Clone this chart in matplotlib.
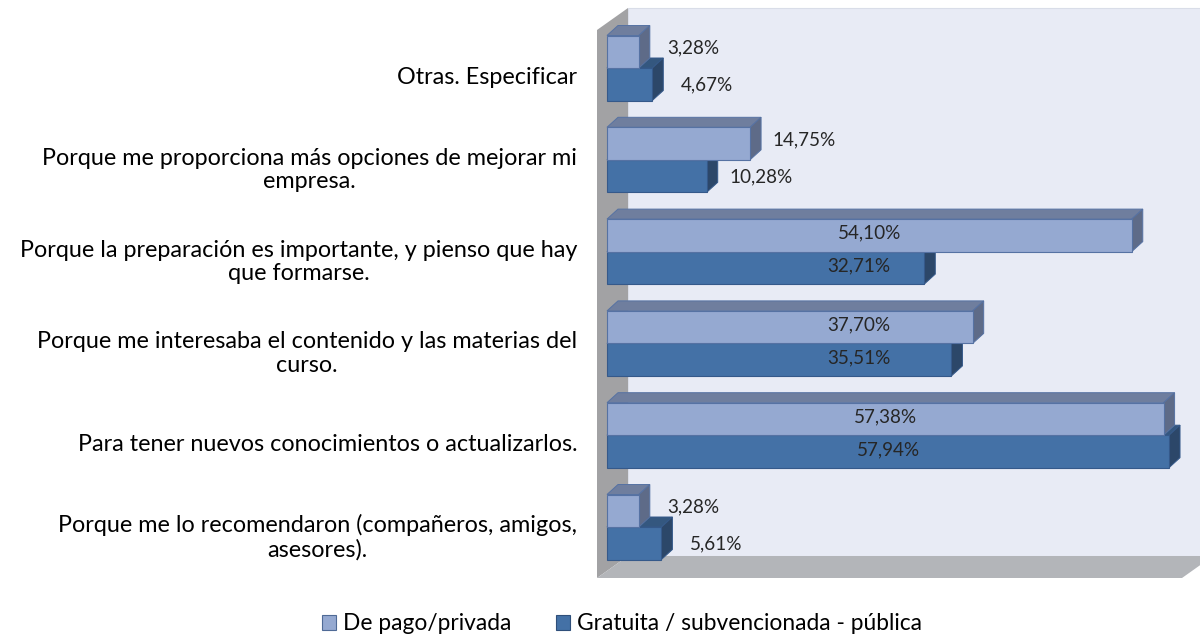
import matplotlib
matplotlib.use("Agg")
import matplotlib.pyplot as plt
from matplotlib.patches import Polygon, Patch

plt.rcParams['font.family'] = ['Lato', 'DejaVu Sans']

categories = [
    "Otras. Especificar",
    "Porque me proporciona más opciones de mejorar mi\nempresa.",
    "Porque la preparación es importante, y pienso que hay\nque formarse.",
    "Porque me interesaba el contenido y las materias del\ncurso.",
    "Para tener nuevos conocimientos o actualizarlos.",
    "Porque me lo recomendaron (compañeros, amigos,\nasesores).",
]
pago = [3.28, 14.75, 54.10, 37.70, 57.38, 3.28]
gratuita = [4.67, 10.28, 32.71, 35.51, 57.94, 5.61]
series_names = ["De pago/privada", "Gratuita / subvencionada - pública"]

W, H = 1200, 638
fig = plt.figure(figsize=(W / 100, H / 100), dpi=100)

# pixel geometry helpers (layout only)
X0 = 607.0        # px where 0 % lies
PX_PER_PCT = 9.70
Y0 = 527.0        # px of bottom category center
PX_PER_CAT = 91.8
AX_L, AX_T, AX_B = 590.0, 0.0, 590.0

ax = fig.add_axes([AX_L / W, 1 - AX_B / H, 1 - AX_L / W, (AX_B - AX_T) / H])
ax.set_xlim((AX_L - X0) / PX_PER_PCT, (W - X0) / PX_PER_PCT)
ax.set_ylim((Y0 - AX_B) / PX_PER_CAT, (Y0 - AX_T) / PX_PER_CAT)
for s in ax.spines.values():
    s.set_visible(False)
ax.patch.set_visible(False)


def dx(px):
    return px / PX_PER_PCT


def dy(px):
    return px / PX_PER_CAT


def pt(px_x, px_y):
    return ((px_x - X0) / PX_PER_PCT, (Y0 - px_y) / PX_PER_CAT)


# --- 3D box: back wall, left wall, floor ---
back = Polygon([pt(628, 8), pt(1230, 8), pt(1230, 556), pt(628, 556)],
               closed=True, facecolor='#E8EBF5', edgecolor='#D9DDE8', lw=0.8, zorder=0)
left = Polygon([pt(597, 30), pt(628, 8), pt(628, 556), pt(597, 578)],
               closed=True, facecolor='#A2A2A4', edgecolor='none', zorder=0.5)
floor = Polygon([pt(597, 578), pt(628, 556), pt(1213, 556), pt(1182, 578)],
                closed=True, facecolor='#B3B5B9', edgecolor='none', zorder=0.5)
for p in (back, left, floor):
    ax.add_patch(p)

n = len(categories)
centers = [n - 1 - i for i in range(n)]
bar_h = dy(32.5)
ddx, ddy = dx(11), dy(10)

styles = {
    0: dict(front='#95A9D1', top='#6F7E9E', side='#5E6B88', edge='#5672A3'),
    1: dict(front='#4471A6', top='#34577F', side='#2C4769', edge='#35598A'),
}


def draw_bar(v, y0, st, z):
    y1 = y0 + bar_h
    top = Polygon([(0, y1), (v, y1), (v + ddx, y1 + ddy), (ddx, y1 + ddy)],
                  closed=True, facecolor=st['top'], edgecolor=st['edge'], lw=0.7, zorder=z)
    side = Polygon([(v, y0), (v + ddx, y0 + ddy), (v + ddx, y1 + ddy), (v, y1)],
                   closed=True, facecolor=st['side'], edgecolor=st['edge'], lw=0.7, zorder=z)
    ax.add_patch(top)
    ax.add_patch(side)


# dark (lower) series first, then light (upper) series on top
for i in range(n):
    draw_bar(gratuita[i], centers[i] - bar_h, styles[1], 2)
ax.barh([c - bar_h / 2 for c in centers], gratuita, height=bar_h,
        color=styles[1]['front'], edgecolor=styles[1]['edge'], lw=0.8, zorder=2.1)
for i in range(n):
    draw_bar(pago[i], centers[i], styles[0], 3)
ax.barh([c + bar_h / 2 for c in centers], pago, height=bar_h,
        color=styles[0]['front'], edgecolor=styles[0]['edge'], lw=0.8, zorder=3.1)


def label_x(v):
    return v + 5.6 if v < 20 else max(v / 2, 26)


def fmt(v):
    return f"{v:.2f}%".replace('.', ',')


for i in range(n):
    yc = centers[i]
    v = pago[i]
    off = dy(4) if v < 20 else dy(2)
    ax.text(label_x(v), yc + bar_h / 2 + off, fmt(v), ha='center', va='center',
            fontsize=13.6, color='#262626', zorder=5)
    v = gratuita[i]
    off = -dy(1) if v < 20 else dy(1.5)
    ax.text(label_x(v), yc - bar_h / 2 + off, fmt(v), ha='center', va='center',
            fontsize=13.6, color='#262626', zorder=5)

ax.set_xticks([])
ax.set_yticks([c - dy(7) for c in centers])
ax.set_yticklabels(categories, fontsize=16.8, color='#000000')
ax.tick_params(axis='y', length=0, pad=(AX_L - 577) * 0.72)
for t in ax.get_yticklabels():
    t.set_multialignment('center')
    t.set_linespacing(1.15)

handles = [Patch(facecolor=styles[0]['front'], edgecolor='#4F6A96', lw=0.8),
           Patch(facecolor=styles[1]['front'], edgecolor='#2F4F7A', lw=0.8)]
fig.legend(handles, series_names, loc='center', bbox_to_anchor=(622 / W, 1 - 624 / H),
           ncol=2, frameon=False, fontsize=16.4, handlelength=0.6, handleheight=0.6,
           handletextpad=0.3, columnspacing=2.0)

fig.savefig('out.png', dpi=100)
